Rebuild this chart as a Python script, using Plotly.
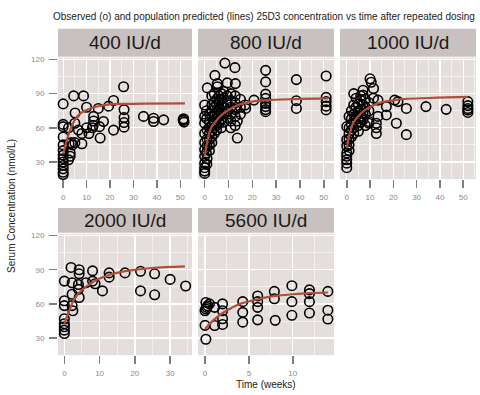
import plotly.graph_objects as go

# ---------------- data ----------------
doses = ["400 IU/d", "800 IU/d", "1000 IU/d", "2000 IU/d", "5600 IU/d"]

t400 = [0, 0, 0, 0, 0, 0, 0, 0, 0, 0, 0, 0, 0,
        2.3, 2.3, 2.5, 3, 3, 3.5, 4, 4.5, 5, 5, 5.1, 6.5, 8, 8, 8.7, 10, 10, 11,
        12.5, 12.8, 13, 13, 15, 15.5, 15.8, 17.2, 19.4, 21.5, 21.5, 25.8, 26, 26, 26, 26,
        34.3, 38.6, 38.6, 42.9, 51.4, 51.4, 51.6, 51.2]
c400 = [81, 63, 61, 52, 45, 40, 36, 33, 30, 27, 24, 21, 19,
        60, 32, 46, 38, 35, 47, 45, 88, 47, 64, 73, 58, 55, 46, 88, 78, 60, 55,
        60, 62, 70, 66, 77, 61, 51, 65.5, 79, 84, 58, 96, 76, 69, 64.6, 60.6,
        70, 68.4, 65.5, 67, 68, 66.5, 65, 67]

t800 = [0, 0, 0, 0, 0, 0, 0, 0, 0, 0, 0,
        1.1, 0.8, 0.8, 1, 1, 1, 0.7, 1, 0.9,
        2, 2, 2, 2, 2, 2, 2,
        3, 3, 3, 3, 3, 3, 3, 3,
        4.3, 4, 4, 4, 4, 4, 4, 4,
        5.3, 5.3, 5, 5, 5, 5, 5, 5,
        6, 6, 6, 6, 6,
        7, 7, 7, 7, 7, 7,
        8.5, 8, 8, 8, 8, 8,
        9.5, 9.5, 9.5, 9.5, 9.5,
        11, 11, 11, 11, 11, 11,
        12.7, 12.9, 12.8, 12.8, 12.8, 12.8, 12.8,
        13.7, 13.7, 15, 15, 15, 17.2, 17, 20.7,
        25.6, 25.6, 25.6, 25.6, 25.6, 25.6, 25.6, 25.6,
        38.5, 38.5, 38.5,
        51, 51, 51, 51, 51]
c800 = [80, 70, 64, 55, 47, 41, 35, 29, 25, 22, 20,
        95, 75, 68, 58, 50, 44, 38, 33, 28,
        72, 65, 60, 55, 50, 45, 40,
        88, 80, 75, 70, 62, 57, 52, 47,
        106, 90, 83, 78, 72, 65, 60, 55,
        98.8, 96, 85, 80, 74, 68, 62, 58,
        88, 82, 76, 70, 64,
        90, 85, 80, 73, 67, 60,
        116.8, 92, 86, 78, 72, 65,
        99.4, 88, 82, 75, 69,
        90, 84, 78, 72, 66, 60,
        112.8, 98.8, 88, 82, 76, 70, 62,
        51, 66, 85, 78, 72, 77, 80, 84.3,
        110.4, 100.3, 89.6, 85.8, 81.4, 78.6, 76, 74.2,
        102.3, 83.8, 77,
        105.5, 86.7, 83, 79, 75.7]

t1000 = [0, 0, 0, 0, 0, 0, 0, 0,
         1, 1, 1, 1, 1, 1,
         2, 2, 2, 2, 2,
         3, 3, 3, 3, 3, 3,
         4, 4, 4, 4,
         5, 5, 5, 5, 5,
         6, 6, 6, 6, 6,
         7, 7, 7, 7, 7,
         8, 8, 8, 8,
         9.5, 9.5, 9.5, 9.5,
         10, 10.5, 11.5, 11.5,
         12.7, 12.7, 12.7, 13.4, 13.4,
         17, 17, 20.6, 21.3, 22, 25.6, 25.6, 34, 42.7,
         52, 52, 52, 52, 52]
c1000 = [61, 49.5, 44, 38, 35, 32, 29, 25,
         70, 60, 55, 50, 45, 40,
         75, 68, 63, 58, 52,
         90, 80, 72, 66, 60, 55,
         86, 78, 70, 64,
         81, 75, 68, 62, 57,
         88, 84, 76, 70, 65,
         93, 88.7, 80, 73, 67,
         85, 78, 72, 62,
         65.5, 64, 75, 82,
         103, 100, 94.5, 86,
         64, 60, 55, 84.3, 70,
         78.6, 71.3, 84.3, 64, 83, 77, 54, 78.6, 76.2,
         83, 77, 75.6, 79.5, 73.5]

t2000 = [0, 0, 0, 0, 0, 0, 0, 0,
         1.9, 2.2, 2.2, 2.2, 2.4, 4.2, 4.2, 4, 4, 4.2, 6.1, 8, 8.7, 8,
         10.8, 12.7, 12.7, 17.2, 21.6, 21.6, 25.6, 25.6, 30, 34.4]
c2000 = [80, 62.8, 58.5, 47, 42.6, 40, 37, 34,
         92, 78.6, 68.5, 58.5, 54, 90, 86.4, 77, 72.8, 65.6, 78.6, 80, 77.7, 89,
         71.4, 87.2, 83.5, 87.2, 88.6, 71.4, 86.4, 68, 81.5, 75.7]

t5600 = [0.1, 0.3, 0.1, 0.5, 0, 0.2, 1.1, 2, 2, 0, 0.1, 1.1, 2, 2,
         4.3, 4.3, 4.3, 6, 6, 6, 6, 7.9, 7.9, 8, 9.9, 9.9, 9.9,
         11.9, 11.9, 11.9, 11.9, 14, 14, 14]
c5600 = [61.3, 58.4, 55.5, 60, 54, 57, 57, 60, 54, 41.2, 29, 41, 47, 42,
         62, 52.6, 44, 67, 62, 57, 46, 71, 64.5, 45.6, 76, 62, 50,
         72.3, 69, 62, 52, 71, 54.5, 46.7]

# population predicted curves
pt400 = [0, 1, 2, 3, 4, 5, 6, 8, 10, 13, 16, 20, 26, 35, 52]
pc400 = [37, 45, 52, 58, 63, 67, 70, 73.5, 75.6, 78, 79.3, 80.5, 81, 81.3, 81.5]
pt800 = [0, 1, 2, 3, 5, 7, 10, 14, 20, 26, 38, 52]
pc800 = [35, 47, 56, 61, 66.5, 71, 75.6, 80, 83, 84.3, 85.2, 85.8]
pt1000 = [0, 1.3, 2.7, 4.9, 7.7, 10.6, 14.9, 20.6, 26.3, 39, 52]
pc1000 = [42.3, 55, 64, 70, 75.6, 79, 82.3, 84.3, 85.5, 86.4, 87.2]
pt2000 = [0, 1.4, 2.8, 4.7, 7, 9.8, 13.6, 18.3, 24.8, 34.2]
pc2000 = [42.6, 54, 64.2, 71.4, 77, 82, 86.3, 89.2, 91.5, 93]
pt5600 = [0, 1, 2, 3, 4, 6, 8, 10, 12, 14]
pc5600 = [38, 46, 52, 56.5, 60, 64, 67, 68.5, 69.5, 70]

obs_t = [t400, t800, t1000, t2000, t5600]
obs_c = [c400, c800, c1000, c2000, c5600]
pred_t = [pt400, pt800, pt1000, pt2000, pt5600]
pred_c = [pc400, pc800, pc1000, pc2000, pc5600]

y_ticks = [30, 60, 90, 120]

# ---------------- layout geometry (pixels) ----------------
W, H = 480, 395
panels = [  # left, right, top, bottom
    (58, 192, 56, 178),
    (198, 334, 56, 178),
    (340, 476, 56, 178),
    (58, 192, 233, 355),
    (198, 334, 233, 355),
]
strips = [(27, 55), (27, 55), (27, 55), (207, 232), (207, 232)]
x_ranges = [[-2.2, 55], [-2.8, 54.3], [-2.9, 55.5], [-1.8, 36.2], [-0.8, 14.7]]
x_dticks = [10, 10, 10, 10, 5]

PANEL_BG = "#e4dfdd"
STRIP_BG = "#c9c1bf"
LINE_COL = "#b04f38"
FONT = "Liberation Sans, Arial, Helvetica, sans-serif"

fig = go.Figure()
layout = dict(
    width=W, height=H, margin=dict(l=0, r=0, t=0, b=0),
    paper_bgcolor="white", plot_bgcolor=PANEL_BG, showlegend=False,
    font=dict(family=FONT),
)
shapes = []
annotations = []

for i in range(5):
    n = "" if i == 0 else str(i + 1)
    xa, ya = "x" + n, "y" + n
    l, r, t, b = panels[i]
    fig.add_trace(go.Scatter(
        x=obs_t[i], y=obs_c[i], mode="markers", xaxis=xa, yaxis=ya,
        marker=dict(symbol="circle-open", size=9.5, color="black",
                    line=dict(width=1.6, color="black")),
        cliponaxis=False, hoverinfo="skip"))
    fig.add_trace(go.Scatter(
        x=pred_t[i], y=pred_c[i], mode="lines", xaxis=xa, yaxis=ya,
        line=dict(color=LINE_COL, width=2.2, shape="spline"), hoverinfo="skip"))
    left_col = i in (0, 3)
    layout["xaxis" + n] = dict(
        domain=[l / W, r / W], anchor=ya, range=x_ranges[i],
        tick0=0, dtick=x_dticks[i], showgrid=True, gridcolor="white", gridwidth=1.3,
        minor=dict(tick0=0, dtick=x_dticks[i] / 2, showgrid=True, gridcolor="white", gridwidth=0.5),
        zeroline=False, showline=False, ticks="outside", ticklen=8, tickwidth=1.5,
        tickcolor="#7f7f7f", tickfont=dict(size=8, color="#8a8a8a"), ticklabelstandoff=2,
    )
    layout["yaxis" + n] = dict(
        domain=[1 - b / H, 1 - t / H], anchor=xa, range=[15, 121.5],
        tickvals=y_ticks, showgrid=True, gridcolor="white", gridwidth=1.3,
        minor=dict(tick0=15, dtick=15, showgrid=True, gridcolor="white", gridwidth=0.5),
        zeroline=False, showline=False,
        ticks="outside" if left_col else "", ticklen=8, tickwidth=1.5, tickcolor="#7f7f7f",
        showticklabels=left_col, tickfont=dict(size=8, color="#8a8a8a"), ticklabelstandoff=3,
    )
    st, sb = strips[i]
    shapes.append(dict(type="rect", xref="paper", yref="paper",
                       x0=l / W, x1=r / W, y0=1 - sb / H, y1=1 - st / H,
                       fillcolor=STRIP_BG, line=dict(width=0), layer="below"))
    annotations.append(dict(text=doses[i], xref="paper", yref="paper",
                            x=(l + r) / 2 / W, y=1 - (st + sb) / 2 / H,
                            showarrow=False, xanchor="center", yanchor="middle",
                            font=dict(size=19, color="#1a1a1a", family=FONT)))

annotations.append(dict(
    text="Observed (o) and population predicted (lines) 25D3 concentration vs time after repeated dosing",
    xref="paper", yref="paper", x=51 / W, y=1 - 15 / H, xanchor="left", yanchor="middle",
    showarrow=False, font=dict(size=10, color="#222222", family=FONT)))
annotations.append(dict(
    text="Serum Concentration (nmol/L)", xref="paper", yref="paper",
    x=12 / W, y=1 - 205 / H, textangle=-90, xanchor="center", yanchor="middle",
    showarrow=False, font=dict(size=10, color="#222222", family=FONT)))
annotations.append(dict(
    text="Time (weeks)", xref="paper", yref="paper",
    x=266 / W, y=1 - 384 / H, xanchor="center", yanchor="middle",
    showarrow=False, font=dict(size=10, color="#222222", family=FONT)))

layout["shapes"] = shapes
layout["annotations"] = annotations
fig.update_layout(**layout)
fig.write_html("out.html", config={"displayModeBar": False, "staticPlot": True},
               post_script="document.body.style.margin='0';document.body.style.padding='0';document.body.style.overflow='hidden';")
